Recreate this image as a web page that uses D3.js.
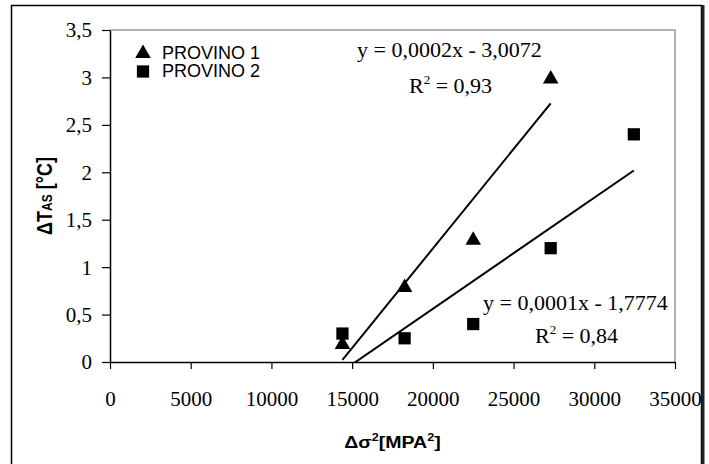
<!DOCTYPE html>
<html>
<head>
<meta charset="utf-8">
<script src="https://cdn.jsdelivr.net/npm/d3@7/dist/d3.min.js"></script>
<style>
  html, body { margin: 0; padding: 0; background: #fff; }
  svg { display: block; }
</style>
</head>
<body>
<svg id="chart" width="709" height="464"></svg>
<script>
// Specimen data: Δσ² [MPa²] versus ΔT_AS [°C]
const seriesNames = ["PROVINO 1", "PROVINO 2"];
const provino1X = [14400, 18250, 22500, 27300];
const provino1Y = [0.2, 0.8, 1.3, 3.0];
const provino2X = [14400, 18250, 22500, 27300, 32450];
const provino2Y = [0.3, 0.25, 0.4, 1.2, 2.4];

// Trendline annotations
const equationLabels = ["y = 0,0002x - 3,0072", "y = 0,0001x - 1,7774"];
const r2Labels = ["0,93", "0,84"];

// Axis ticks
const xTicks = [0, 5000, 10000, 15000, 20000, 25000, 30000, 35000];
const yTicks = [0, 0.5, 1, 1.5, 2, 2.5, 3, 3.5];

const svg = d3.select("#chart");
const W = 709, H = 464;
const plot = { left: 110, top: 30, right: 675, bottom: 362 };

const x = d3.scaleLinear().domain([0, 35000]).range([plot.left, plot.right]);
const y = d3.scaleLinear().domain([0, 3.5]).range([plot.bottom, plot.top]);

const fmtY = v => String(v).replace(".", ",");
const serif = "'Liberation Serif', 'Times New Roman', serif";
const sans = "'Liberation Sans', Arial, sans-serif";

// Outer chart frame
svg.append("rect")
  .attr("x", 11.5).attr("y", 5.5).attr("width", 690).attr("height", 470)
  .attr("fill", "none").attr("stroke", "#000").attr("stroke-width", 1.5);
svg.append("line")
  .attr("x1", 703).attr("x2", 703).attr("y1", 5).attr("y2", H)
  .attr("stroke", "#222").attr("stroke-width", 3);

// Plot area border (top/right in grey)
svg.append("path")
  .attr("d", `M${plot.left},${plot.top}H${plot.right}V${plot.bottom}`)
  .attr("fill", "none").attr("stroke", "#9a9a9a").attr("stroke-width", 1.5);

// Axes
const xAxis = d3.axisBottom(x).tickValues(xTicks).tickSize(7).tickSizeOuter(0)
  .tickFormat(d => String(d));
const yAxis = d3.axisLeft(y).tickValues(yTicks).tickSize(8).tickSizeOuter(0)
  .tickFormat(fmtY);

const gx = svg.append("g").attr("transform", `translate(0,${plot.bottom})`).call(xAxis);
gx.select(".domain").attr("stroke", "#000").attr("stroke-width", 1.5);
gx.selectAll(".tick line").attr("stroke", "#000").attr("stroke-width", 1.2);
gx.selectAll(".tick text")
  .attr("font-family", serif).attr("font-size", 21).attr("fill", "#000")
  .attr("y", 44).attr("dy", 0);

const gy = svg.append("g").attr("transform", `translate(${plot.left},0)`).call(yAxis);
gy.select(".domain").attr("stroke", "#000").attr("stroke-width", 1.5);
gy.selectAll(".tick line").attr("stroke", "#000").attr("stroke-width", 1.2);
gy.selectAll(".tick text")
  .attr("font-family", serif).attr("font-size", 21).attr("fill", "#000")
  .attr("x", -18).attr("dy", "0.33em");

// Axis titles (slightly widened bold sans)
const xt = svg.append("text")
  .attr("transform", `translate(${(plot.left + plot.right) / 2},448) scale(1.15,1)`)
  .attr("text-anchor", "middle")
  .attr("font-family", sans).attr("font-weight", "bold").attr("font-size", 17);
xt.append("tspan").text("Δσ");
xt.append("tspan").attr("dy", -7).attr("font-size", 11).text("2");
xt.append("tspan").attr("dy", 7).text("[MPA");
xt.append("tspan").attr("dy", -7).attr("font-size", 11).text("2");
xt.append("tspan").attr("dy", 7).text("]");

const yt = svg.append("text")
  .attr("transform", `translate(52,${(plot.top + plot.bottom) / 2}) scale(1.2,1) rotate(-90)`)
  .attr("text-anchor", "middle")
  .attr("font-family", sans).attr("font-weight", "bold").attr("font-size", 18);
yt.append("tspan").text("ΔT");
yt.append("tspan").attr("font-size", 12).text("AS");
yt.append("tspan").text(" [°C]");

// Least-squares fit, as used for the trendlines
function fit(xs, ys) {
  const mx = d3.mean(xs), my = d3.mean(ys);
  let sxy = 0, sxx = 0;
  xs.forEach((v, i) => { sxy += (v - mx) * (ys[i] - my); sxx += (v - mx) ** 2; });
  const slope = sxy / sxx;
  return { slope, intercept: my - slope * mx };
}

svg.append("clipPath").attr("id", "plot-clip")
  .append("rect")
  .attr("x", plot.left).attr("y", plot.top)
  .attr("width", plot.right - plot.left).attr("height", plot.bottom - plot.top);

const series = [
  { name: seriesNames[0], xs: provino1X, ys: provino1Y, symbol: d3.symbolTriangle },
  { name: seriesNames[1], xs: provino2X, ys: provino2Y, symbol: d3.symbolSquare }
];

const lineGen = d3.line().x(d => x(d[0])).y(d => y(d[1]));
const trendG = svg.append("g").attr("clip-path", "url(#plot-clip)");
series.forEach(s => {
  const f = fit(s.xs, s.ys);
  const x0 = d3.min(s.xs), x1 = d3.max(s.xs);
  trendG.append("path")
    .attr("d", lineGen([[x0, f.intercept + f.slope * x0], [x1, f.intercept + f.slope * x1]]))
    .attr("fill", "none").attr("stroke", "#000").attr("stroke-width", 2);
});

// Markers
const symSize = { [seriesNames[0]]: 105, [seriesNames[1]]: 150 };
series.forEach(s => {
  svg.append("g").selectAll("path")
    .data(s.xs.map((v, i) => [v, s.ys[i]]))
    .join("path")
    .attr("transform", d => `translate(${x(d[0])},${y(d[1]) + (s.symbol === d3.symbolTriangle ? 1.5 : 0)})`)
    .attr("d", d3.symbol().type(s.symbol).size(symSize[s.name]))
    .attr("fill", "#000");
});

// Legend
const legend = svg.append("g");
series.forEach((s, i) => {
  const ly = 53 + i * 18.5;
  legend.append("path")
    .attr("transform", `translate(143,${ly + (i === 0 ? 0.5 : 0)})`)
    .attr("d", d3.symbol().type(s.symbol).size(symSize[s.name]))
    .attr("fill", "#000");
  legend.append("text")
    .attr("x", 162).attr("y", ly + 5.5)
    .attr("font-family", sans).attr("font-size", 18).attr("fill", "#000")
    .text(s.name);
});

// Trendline equations
const eqPos = [
  { ex: 357, ey: 57, rx: 409, ry: 93 },
  { ex: 483, ey: 310, rx: 535, ry: 343 }
];
eqPos.forEach((p, i) => {
  svg.append("text")
    .attr("x", p.ex).attr("y", p.ey)
    .attr("font-family", serif).attr("font-size", 22).attr("fill", "#000")
    .text(equationLabels[i]);
  const r = svg.append("text")
    .attr("x", p.rx).attr("y", p.ry)
    .attr("font-family", serif).attr("font-size", 22).attr("fill", "#000");
  r.append("tspan").text("R");
  r.append("tspan").attr("dy", -9).attr("font-size", 13).text("2");
  r.append("tspan").attr("dy", 9).text(" = " + r2Labels[i]);
});
</script>
</body>
</html>
